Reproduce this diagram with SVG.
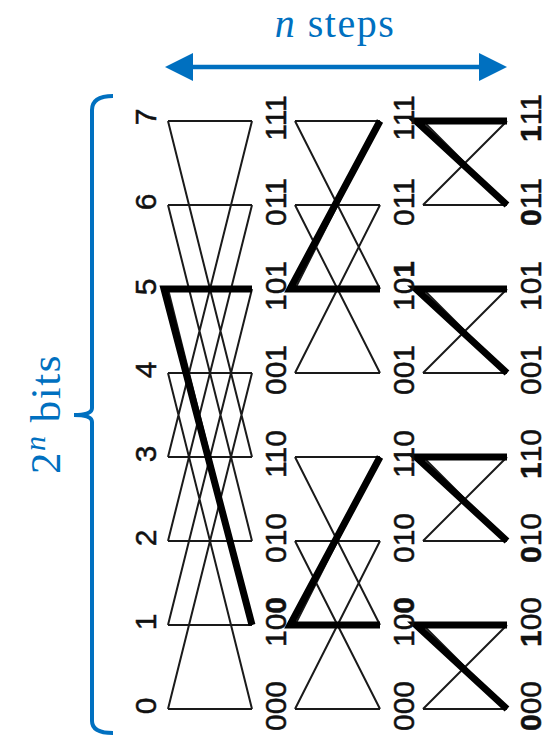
<svg xmlns="http://www.w3.org/2000/svg" width="549" height="735" viewBox="0 0 549 735">
<style>
.thin{stroke:#1a1a1a;stroke-width:2;fill:none}
.heavy{stroke:#000;stroke-width:7;fill:none;stroke-linejoin:miter;stroke-miterlimit:6}
.lbl{font-family:"Liberation Sans",Arial,sans-serif;font-size:30px;fill:#111;stroke:#111;stroke-width:0.5;text-anchor:middle}
.blue{fill:#0070C0;font-family:"Liberation Serif","Times New Roman",serif}
</style>
<rect width="549" height="735" fill="#fff"/>

<g id="steps-annotation">
<text class="blue" x="335" y="37" font-size="40" text-anchor="middle" letter-spacing="1.5"><tspan font-style="italic">n</tspan> steps</text>
<line x1="193" y1="67" x2="479" y2="67" stroke="#0070C0" stroke-width="4.5"/>
<path d="M165,67 L193,53 L193,81 Z" fill="#0070C0"/>
<path d="M507,67 L479,53 L479,81 Z" fill="#0070C0"/>
</g>

<g id="bits-annotation">
<path d="M113,96 Q92,96 92,110 L92,408 Q92,415 74,415 Q92,415 92,422 L92,721 Q92,733 113,733" fill="none" stroke="#0070C0" stroke-width="4"/>
<text class="blue" transform="translate(60,414) rotate(-90)" font-size="43" text-anchor="middle" letter-spacing="1.5">2<tspan dy="-15" font-size="30" font-style="italic">n</tspan><tspan dy="15"> bits</tspan></text>
</g>

<g id="connectors">
<g id="stage1">
<path class="thin" d="M168,121H252M168,205H252M168,289H252M168,373H252M168,457H252M168,541H252M168,625H252M168,709H252"/>
<path class="thin" d="M168,121L252,457M252,121L168,457M168,205L252,541M252,205L168,541M168,289L252,625M252,289L168,625M168,373L252,709M252,373L168,709"/>
</g>
<g id="stage2">
<path class="thin" d="M295,121H380M295,205H380M295,289H380M295,373H380M295,457H380M295,541H380M295,625H380M295,709H380"/>
<path class="thin" d="M295,121L380,289M380,121L295,289M295,205L380,373M380,205L295,373M295,457L380,625M380,457L295,625M295,541L380,709M380,541L295,709"/>
</g>
<g id="stage3">
<path class="thin" d="M423,121H507M423,205H507M423,289H507M423,373H507M423,457H507M423,541H507M423,625H507M423,709H507"/>
<path class="thin" d="M423,121L507,205M423,205L507,121M423,289L507,373M423,373L507,289M423,457L507,541M423,541L507,457M423,625L507,709M423,709L507,625"/>
</g>
<g id="path">
<polyline class="heavy" points="252,289 164,289 252,625"/>
<polyline class="heavy" points="380,289 290,289 380,121"/>
<polyline class="heavy" points="380,625 290,625 380,457"/>
<polyline class="heavy" points="507,121 416,121 507,205"/>
<polyline class="heavy" points="507,289 416,289 507,373"/>
<polyline class="heavy" points="507,457 416,457 507,541"/>
<polyline class="heavy" points="507,625 416,625 507,709"/>
</g>
</g>

<g id="index-labels" class="lbl">
<text transform="translate(156,117) rotate(-90)">7</text>
<text transform="translate(156,202) rotate(-90)">6</text>
<text transform="translate(156,287) rotate(-90)">5</text>
<text transform="translate(156,370) rotate(-90)">4</text>
<text transform="translate(156,454) rotate(-90)">3</text>
<text transform="translate(156,538) rotate(-90)">2</text>
<text transform="translate(156,622) rotate(-90)">1</text>
<text transform="translate(156,706) rotate(-90)">0</text>
</g>

<g id="bits-col1" class="lbl">
<text transform="translate(286,118) rotate(-90)">111</text>
<text transform="translate(286,202) rotate(-90)">011</text>
<text transform="translate(286,286) rotate(-90)">101</text>
<text transform="translate(286,370) rotate(-90)">001</text>
<text transform="translate(286,454) rotate(-90)">110</text>
<text transform="translate(286,538) rotate(-90)">010</text>
<text transform="translate(286,622) rotate(-90)">10<tspan font-weight="bold">0</tspan></text>
<text transform="translate(286,706) rotate(-90)">000</text>
</g>

<g id="bits-col2" class="lbl">
<text transform="translate(414,118) rotate(-90)">111</text>
<text transform="translate(414,202) rotate(-90)">011</text>
<text transform="translate(414,286) rotate(-90)">10<tspan font-weight="bold">1</tspan></text>
<text transform="translate(414,370) rotate(-90)">001</text>
<text transform="translate(414,454) rotate(-90)">110</text>
<text transform="translate(414,538) rotate(-90)">010</text>
<text transform="translate(414,622) rotate(-90)">10<tspan font-weight="bold">0</tspan></text>
<text transform="translate(414,706) rotate(-90)">000</text>
</g>

<g id="bits-col3" class="lbl">
<text transform="translate(541,118) rotate(-90)"><tspan font-weight="bold">1</tspan>11</text>
<text transform="translate(541,202) rotate(-90)"><tspan font-weight="bold">0</tspan>11</text>
<text transform="translate(541,286) rotate(-90)">101</text>
<text transform="translate(541,370) rotate(-90)">001</text>
<text transform="translate(541,454) rotate(-90)"><tspan font-weight="bold">1</tspan>10</text>
<text transform="translate(541,538) rotate(-90)"><tspan font-weight="bold">0</tspan>10</text>
<text transform="translate(541,622) rotate(-90)"><tspan font-weight="bold">1</tspan>00</text>
<text transform="translate(541,706) rotate(-90)"><tspan font-weight="bold">0</tspan>00</text>
</g>
</svg>
